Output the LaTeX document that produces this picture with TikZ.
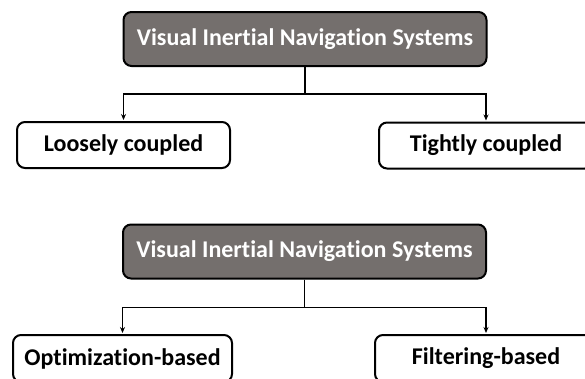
\documentclass[tikz,border=0pt]{standalone}
\usepackage{fontspec}
\setmainfont{Carlito}[Ligatures=NoCommon]
\usepackage{tikz}
\usepackage{xcolor}
\usetikzlibrary{arrows.meta}
\definecolor{vins-grey}{RGB}{116,111,109}
\tikzset{
    title-box/.style = {draw=black, fill=vins-grey, line width=2pt, rectangle, rounded corners=8pt, text=white, font=\fontsize{24}{28}\selectfont\bfseries, minimum width=363pt, minimum height=54pt, inner sep=0pt},
    leaf-box/.style = {draw=black, fill=white, line width=2pt, rectangle, rounded corners=8pt, font=\fontsize{24}{28}\selectfont\bfseries, minimum height=46pt, inner sep=0pt},
    link/.style = {draw=black, line width=1.3pt, -{Stealth[length=6pt,width=5pt]}, shorten >=1pt},
}

\begin{document}
\begin{tikzpicture}[x=1pt,y=1pt]
\useasboundingbox (0,0) rectangle (585,-378);
\clip (0,0) rectangle (585,-378);
% coupling
\node [title-box] (vins-a) at (305,-39) {Visual Inertial Navigation Systems};
\node [leaf-box, minimum width=213pt] (loose) at (123.5,-145) {Loosely coupled};
\node [leaf-box, minimum width=214pt] (tight) at (486,-145.5) {Tightly coupled};
\draw [link] (vins-a.south) -- ++(0,-27) -| (loose.north);
\draw [link] (vins-a.south) -- ++(0,-27) -| (tight.north);
% estimation
\node [title-box] (vins-b) at (304.5,-251.5) {Visual Inertial Navigation Systems};
\node [leaf-box, minimum width=219pt, minimum height=47pt] (optim) at (122.5,-358.5) {Optimization-based};
\node [leaf-box, minimum width=222pt, minimum height=47pt] (filter) at (486,-358.5) {Filtering-based};
\draw [link] (vins-b.south) -- ++(0,-28) -| (optim.north);
\draw [link] (vins-b.south) -- ++(0,-28) -| (filter.north);
\end{tikzpicture}
\end{document}
